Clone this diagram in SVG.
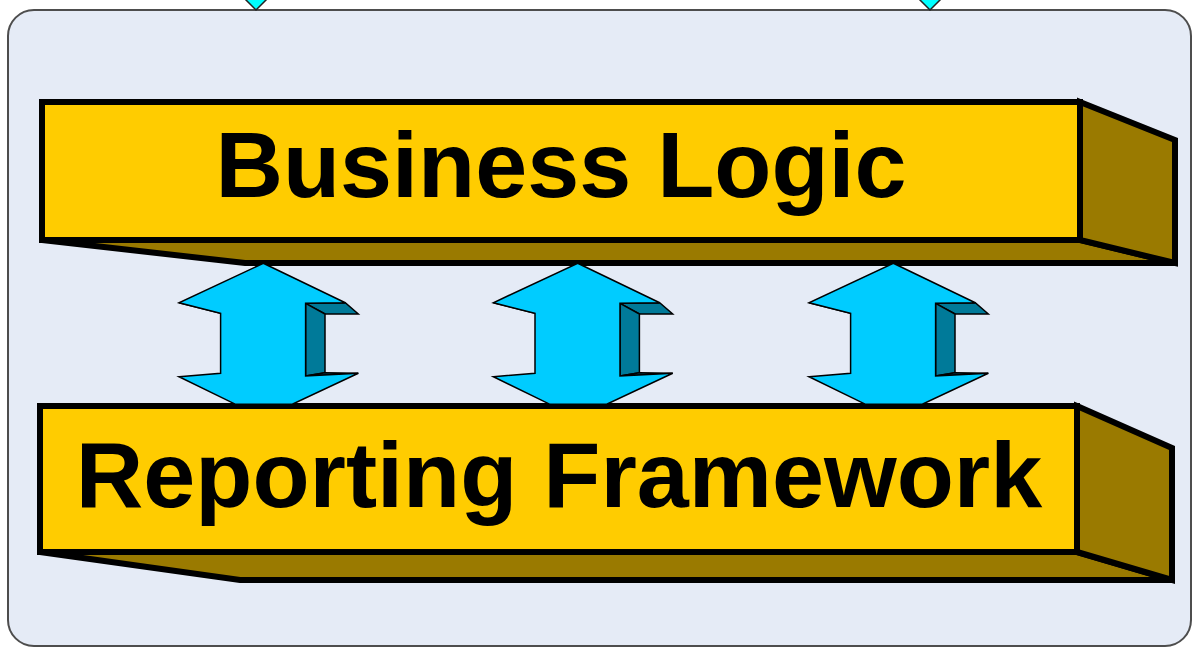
<svg xmlns="http://www.w3.org/2000/svg" width="1193" height="648" viewBox="0 0 1193 648">
<defs>
<style>
.frame{fill:#E5EBF6;stroke:#4d4d4d;stroke-width:2}
.front{fill:#FFCC00;stroke:#000;stroke-width:6;stroke-linejoin:miter}
.side{fill:#9A7A00;stroke:#000;stroke-width:6;stroke-linejoin:miter}
.lbl{font-family:"Liberation Sans",Arial,sans-serif;font-weight:bold;font-size:93.5px;fill:#000;text-anchor:middle}
.af{fill:#00CCFF;stroke:#000;stroke-width:1.5;stroke-linejoin:miter}
.ad{fill:#007A99;stroke:#000;stroke-width:1.5;stroke-linejoin:miter}
.dia{fill:#00FFFF;stroke:#222;stroke-width:1.5}
</style>
<g id="arrowShape">
<polygon class="ad" points="42.3,303.3 82,302.7 95,314 61.7,314"/>
<polygon class="ad" points="42.3,303.3 61.7,314 61.7,372.7 42.3,376"/>
<polygon class="ad" points="61.7,372.7 95,373.3 42.3,376"/>
<polygon class="ad" points="-84.3,302.7 -42.7,303.3 -42.7,313.3"/>
<polygon class="af" points="0,263.3 82,302.7 42.3,303.3 42.3,376 95,373.3 29,404.3 -27.7,404.3 -84.3,376.7 -42.7,373.3 -42.7,313.3 -84.3,302.7"/>
</g>
</defs>

<g id="frame">
<rect class="frame" x="8" y="10" width="1183" height="636" rx="26" ry="26"/>
</g>

<g id="top-connectors">
<polygon class="dia" points="242,-4 256,10 270,-4"/>
<polygon class="dia" points="916,-4 930,10 944,-4"/>
</g>

<g id="business-logic">
<polygon class="side" points="42,240 1080,240 1175,263 245,263"/>
<polygon class="side" points="1080,102 1175,140 1175,263 1080,240"/>
<rect class="front" x="42" y="102" width="1038" height="138"/>
<text class="lbl" x="561" y="197">Business Logic</text>
</g>

<g id="reporting-framework">
<polygon class="side" points="40,552 1077,552 1172,580 240,580"/>
<polygon class="side" points="1077,406 1172,448 1172,580 1077,552"/>
<rect class="front" x="40" y="406" width="1037" height="146"/>
<text class="lbl" x="559" y="507">Reporting Framework</text>
</g>

<g id="connectors">
<use href="#arrowShape" transform="translate(263.3,0)"/>
<use href="#arrowShape" transform="translate(577.7,0)"/>
<use href="#arrowShape" transform="translate(893.3,0)"/>
</g>
</svg>
